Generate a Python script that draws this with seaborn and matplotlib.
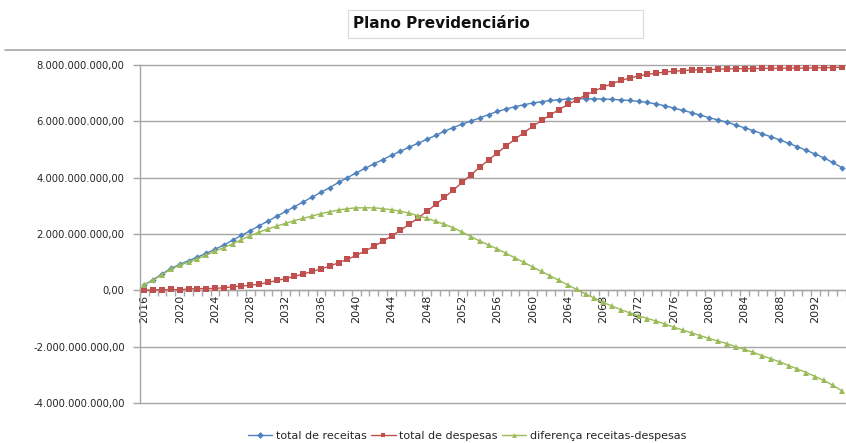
import numpy as np
import pandas as pd
import seaborn as sns
import matplotlib
matplotlib.use("Agg")
import matplotlib.pyplot as plt
from matplotlib.patches import Rectangle
from matplotlib.lines import Line2D
from matplotlib.ticker import FuncFormatter, FixedLocator, MultipleLocator

# Projection years
years = list(range(2016, 2096))

# Values in billions of reais
total_receitas = [
    0.20, 0.38, 0.58, 0.78, 0.92, 1.05, 1.18, 1.31, 1.46, 1.61,
    1.78, 1.95, 2.12, 2.29, 2.46, 2.63, 2.80, 2.97, 3.14, 3.31,
    3.48, 3.65, 3.83, 4.00, 4.17, 4.33, 4.49, 4.64, 4.79, 4.94,
    5.08, 5.22, 5.36, 5.50, 5.65, 5.78, 5.90, 6.01, 6.12, 6.24,
    6.35, 6.44, 6.52, 6.59, 6.65, 6.70, 6.74, 6.77, 6.79, 6.80,
    6.80, 6.80, 6.79, 6.78, 6.76, 6.74, 6.71, 6.67, 6.62, 6.55,
    6.47, 6.39, 6.31, 6.22, 6.13, 6.05, 5.97, 5.87, 5.77, 5.67,
    5.56, 5.45, 5.34, 5.22, 5.10, 4.97, 4.84, 4.70, 4.54, 4.36,
]
total_despesas = [
    0.00, 0.02, 0.02, 0.03, 0.02, 0.05, 0.06, 0.06, 0.07, 0.09,
    0.13, 0.15, 0.18, 0.22, 0.28, 0.35, 0.42, 0.50, 0.58, 0.67,
    0.76, 0.86, 0.98, 1.10, 1.24, 1.40, 1.56, 1.74, 1.93, 2.13,
    2.34, 2.57, 2.80, 3.05, 3.30, 3.56, 3.83, 4.10, 4.37, 4.63,
    4.88, 5.13, 5.37, 5.60, 5.82, 6.03, 6.23, 6.42, 6.60, 6.77,
    6.93, 7.08, 7.22, 7.34, 7.45, 7.54, 7.61, 7.67, 7.71, 7.75,
    7.78, 7.80, 7.82, 7.83, 7.84, 7.85, 7.86, 7.87, 7.87, 7.87,
    7.88, 7.88, 7.88, 7.89, 7.89, 7.89, 7.90, 7.90, 7.91, 7.92,
]
diferenca = [
    0.20, 0.36, 0.56, 0.75, 0.90, 1.00, 1.12, 1.25, 1.39, 1.52,
    1.65, 1.80, 1.94, 2.07, 2.18, 2.28, 2.38, 2.47, 2.56, 2.64,
    2.72, 2.79, 2.85, 2.90, 2.93, 2.93, 2.93, 2.90, 2.86, 2.81,
    2.74, 2.65, 2.56, 2.45, 2.35, 2.22, 2.07, 1.91, 1.75, 1.61,
    1.47, 1.31, 1.15, 0.99, 0.83, 0.67, 0.51, 0.35, 0.19, 0.03,
    -0.13, -0.28, -0.43, -0.56, -0.69, -0.80, -0.90, -1.00, -1.09, -1.20,
    -1.31, -1.41, -1.51, -1.61, -1.71, -1.80, -1.89, -2.00, -2.10, -2.20,
    -2.32, -2.43, -2.54, -2.67, -2.79, -2.92, -3.06, -3.20, -3.37, -3.56,
]

series_names = ["total de receitas", "total de despesas", "diferença receitas-despesas"]
series_colors = ["#4F81BD", "#C0504D", "#9BBB59"]
series_markers = ["D", "s", "^"]

df = pd.concat([
    pd.DataFrame({"ano": years, "valor": np.array(v) * 1e9, "serie": n})
    for n, v in zip(series_names, [total_receitas, total_despesas, diferenca])
])

sns.set_theme(style="white")
plt.rcParams["font.family"] = ["DejaVu Sans"]

fig = plt.figure(figsize=(8.46, 4.43), dpi=100)
W, H = 846, 443
ax = fig.add_axes([140 / W, 1 - 403 / H, 706 / W, (403 - 65) / H])

palette = dict(zip(series_names, series_colors))
markers = dict(zip(series_names, series_markers))
sizes = {"total de receitas": 3.2, "total de despesas": 4.2, "diferença receitas-despesas": 4.2}
for name in series_names:
    sns.lineplot(
        data=df[df["serie"] == name], x="ano", y="valor",
        color=palette[name], marker=markers[name], markersize=sizes[name],
        markeredgewidth=0, linewidth=1.0, ax=ax, legend=False, zorder=3,
    )

ax.set_xlim(2015.5, 2095.5)
ax.set_ylim(-4e9, 8e9)
ax.set_xlabel("")
ax.set_ylabel("")

grid_c = "#A6A6A6"
ax.yaxis.set_major_locator(MultipleLocator(2e9))
ax.grid(False)
# horizontal gridlines drawn unclipped so the edge lines show in full
for v in np.arange(-4e9, 8.01e9, 2e9):
    ax.axhline(v, color=grid_c, linewidth=1.0, zorder=1, clip_on=False)


def br_fmt(v, pos):
    s = f"{v:,.2f}"
    return s.replace(",", "#").replace(".", ",").replace("#", ".")


ax.yaxis.set_major_formatter(FuncFormatter(br_fmt))
ax.tick_params(axis="y", which="major", length=5, width=1, color=grid_c,
               labelsize=7.2, labelcolor="#262626", pad=6, left=True)

for s in ["top", "right"]:
    ax.spines[s].set_visible(False)
ax.spines["left"].set_color(grid_c)
ax.spines["left"].set_linewidth(1.0)
ax.spines["bottom"].set_position(("data", 0))
ax.spines["bottom"].set_color(grid_c)
ax.spines["bottom"].set_linewidth(1.0)

ax.xaxis.set_major_locator(FixedLocator(years[::4]))
ax.xaxis.set_minor_locator(FixedLocator([y + 0.5 for y in range(2015, 2096)]))
ax.tick_params(axis="x", which="major", length=0, labelsize=8, labelrotation=90,
               labelcolor="#262626", pad=3, bottom=True)
ax.tick_params(axis="x", which="minor", length=4, width=1, color=grid_c, bottom=True)

# Title in a framed box
fig.patches.append(Rectangle((348 / W, 1 - 38 / H), (643 - 348) / W, 28 / H,
                             transform=fig.transFigure, facecolor="white",
                             edgecolor="#D9D9D9", linewidth=0.8))
fig.text(353 / W, 1 - 24 / H, "Plano Previdenciário", fontsize=11,
         fontweight="bold", color="#111111", ha="left", va="center")

# Separator line under the title
fig.add_artist(Line2D([5 / W, 1], [1 - 50 / H, 1 - 50 / H], transform=fig.transFigure,
                      color="#A6A6A6", linewidth=1.2))

handles = [Line2D([], [], color=c, marker=m, markersize=3.5, markeredgewidth=0, linewidth=1.0)
           for c, m in zip(series_colors, series_markers)]
fig.legend(handles, series_names, loc="center", bbox_to_anchor=(467 / W, 1 - 436 / H),
           ncol=3, frameon=False, fontsize=8, handlelength=2.2, handletextpad=0.3,
           columnspacing=0.4, labelcolor="#262626")

fig.savefig("out.png", dpi=100)
